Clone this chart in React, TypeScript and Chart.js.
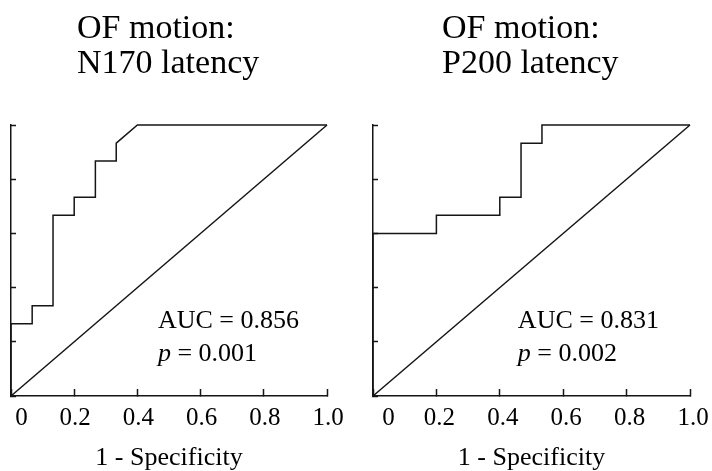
import { useEffect, useRef } from 'react';
import { Chart, registerables } from 'chart.js';

Chart.register(...registerables);

// ---------- data ----------
const xTickValues = [0, 0.2, 0.4, 0.6, 0.8, 1.0];
const xTickLabels = ['0', '0.2', '0.4', '0.6', '0.8', '1.0'];
const yTickValues = [0, 0.2, 0.4, 0.6, 0.8, 1.0];

const n170Fpr = [0, 0, 0.067, 0.067, 0.133, 0.133, 0.2, 0.2, 0.267, 0.267, 0.333, 0.333, 0.4, 1.0];
const n170Tpr = [0, 0.267, 0.267, 0.333, 0.333, 0.667, 0.667, 0.733, 0.733, 0.867, 0.867, 0.933, 1.0, 1.0];

const p200Fpr = [0, 0, 0.2, 0.2, 0.4, 0.4, 0.467, 0.467, 0.533, 0.533, 1.0];
const p200Tpr = [0, 0.6, 0.6, 0.667, 0.667, 0.733, 0.733, 0.933, 0.933, 1.0, 1.0];

const chanceFpr = [0, 1];
const chanceTpr = [0, 1];

const n170Title = ['OF motion:', 'N170 latency'];
const p200Title = ['OF motion:', 'P200 latency'];
const n170Auc = 'AUC = 0.856';
const n170P = '0.001';
const p200Auc = 'AUC = 0.831';
const p200P = '0.002';
const xAxisTitle = '1 - Specificity';

// ---------- style ----------
const FONT = '"Liberation Serif", "Times New Roman", serif';
const LINE = '#151515';
const TEXT = '#000';
const H = 471;

type Panel = {
  fpr: number[];
  tpr: number[];
  title: string[];
  auc: string;
  p: string;
  left: number;
  width: number;
  padLeft: number;
  padRight: number;
  titleDx: number;
  zeroPad: number;
  labelOffset: number;
  annX: number;
  annY: number[];
};

const panels: Panel[] = [
  {
    fpr: n170Fpr, tpr: n170Tpr, title: n170Title, auc: n170Auc, p: n170P,
    left: -30, width: 396, padLeft: 41, padRight: 39,
    titleDx: 66, zeroPad: 3, labelOffset: 1, annX: 0.465, annY: [0.251, 0.129],
  },
  {
    fpr: p200Fpr, tpr: p200Tpr, title: p200Title, auc: p200Auc, p: p200P,
    left: 336, width: 404, padLeft: 37, padRight: 50,
    titleDx: 69, zeroPad: 4, labelOffset: 3, annX: 0.457, annY: [0.251, 0.129],
  },
];

const textPlugin = {
  id: 'rocText',
  afterDraw(chart: any, _args: any, opts: any) {
    const { ctx, chartArea, scales } = chart;
    ctx.save();
    ctx.fillStyle = TEXT;
    ctx.textBaseline = 'alphabetic';
    ctx.textAlign = 'left';
    ctx.font = `34px ${FONT}`;
    const titleY = [37.5, 72.5];
    opts.title.forEach((line: string, i: number) => {
      ctx.fillText(line, chartArea.left + opts.titleDx, titleY[i]);
    });
    const ax = scales.x.getPixelForValue(opts.annX);
    ctx.font = `26px ${FONT}`;
    ctx.fillText(opts.auc, ax, scales.y.getPixelForValue(opts.annY[0]));
    const y2 = scales.y.getPixelForValue(opts.annY[1]);
    ctx.font = `italic 26px ${FONT}`;
    ctx.fillText('p', ax, y2);
    const w = ctx.measureText('p').width;
    ctx.font = `26px ${FONT}`;
    ctx.fillText(' = ' + opts.p, ax + w, y2);
    ctx.restore();
  },
};

function RocPanel({ cfg }: { cfg: Panel }) {
  const ref = useRef<HTMLCanvasElement>(null);
  useEffect(() => {
    const lineDs = (xs: number[], ys: number[]) => ({
      data: xs.map((x, i) => ({ x, y: ys[i] })),
      showLine: true,
      borderColor: LINE,
      borderWidth: 1.5,
      pointRadius: 0,
      pointHoverRadius: 0,
      tension: 0,
      clip: false as any,
    });
    const chart = new Chart(ref.current!, {
      type: 'scatter',
      data: {
        datasets: [lineDs(cfg.fpr, cfg.tpr), lineDs(chanceFpr, chanceTpr)] as any,
      },
      plugins: [textPlugin as any],
      options: {
        animation: false,
        responsive: false,
        devicePixelRatio: 1,
        layout: { padding: { left: cfg.padLeft, right: cfg.padRight, top: 125, bottom: 0 } },
        plugins: {
          legend: { display: false },
          tooltip: { enabled: false },
          rocText: { title: cfg.title, titleDx: cfg.titleDx, auc: cfg.auc, p: cfg.p, annX: cfg.annX, annY: cfg.annY },
        } as any,
        scales: {
          x: {
            type: 'linear',
            min: 0,
            max: 1,
            afterBuildTicks: (s: any) => {
              s.ticks = xTickValues.map((v) => ({ value: v }));
            },
            afterFit: (s: any) => {
              s.height = 75;
            },
            ticks: {
              callback: (_v: any, i: number) =>
                i === 0 ? ' '.repeat(cfg.zeroPad) + xTickLabels[i] : xTickLabels[i],
              font: { family: FONT, size: 25, lineHeight: 1.2 },
              color: TEXT,
              padding: 14,
              labelOffset: cfg.labelOffset,
              maxRotation: 0,
              minRotation: 0,
              autoSkip: false,
            },
            grid: {
              display: true,
              drawOnChartArea: false,
              drawTicks: true,
              tickLength: -7,
              tickWidth: 1.5,
              tickColor: LINE,
            },
            border: { display: true, color: LINE, width: 1.5 },
            title: {
              display: true,
              text: xAxisTitle,
              font: { family: FONT, size: 26, lineHeight: 1 },
              color: TEXT,
              padding: 0,
            },
          },
          y: {
            type: 'linear',
            min: 0,
            max: 1,
            afterBuildTicks: (s: any) => {
              s.ticks = yTickValues.map((v) => ({ value: v }));
            },
            afterFit: (s: any) => {
              s.width = 0;
            },
            ticks: { display: false },
            grid: {
              display: true,
              drawOnChartArea: false,
              drawTicks: true,
              tickLength: -5,
              tickWidth: 1.5,
              tickColor: LINE,
            },
            border: { display: true, color: LINE, width: 1.5 },
          },
        },
      } as any,
    });
    return () => chart.destroy();
  }, [cfg]);
  return (
    <canvas
      ref={ref}
      width={cfg.width}
      height={H}
      style={{ position: 'absolute', left: cfg.left, top: 0, width: cfg.width, height: H }}
    />
  );
}

export default function App() {
  return (
    <div
      style={{
        position: 'absolute',
        left: 0,
        top: 0,
        width: 712,
        height: H,
        overflow: 'hidden',
        background: '#fff',
      }}
    >
      {panels.map((p, i) => (
        <RocPanel key={i} cfg={p} />
      ))}
    </div>
  );
}
